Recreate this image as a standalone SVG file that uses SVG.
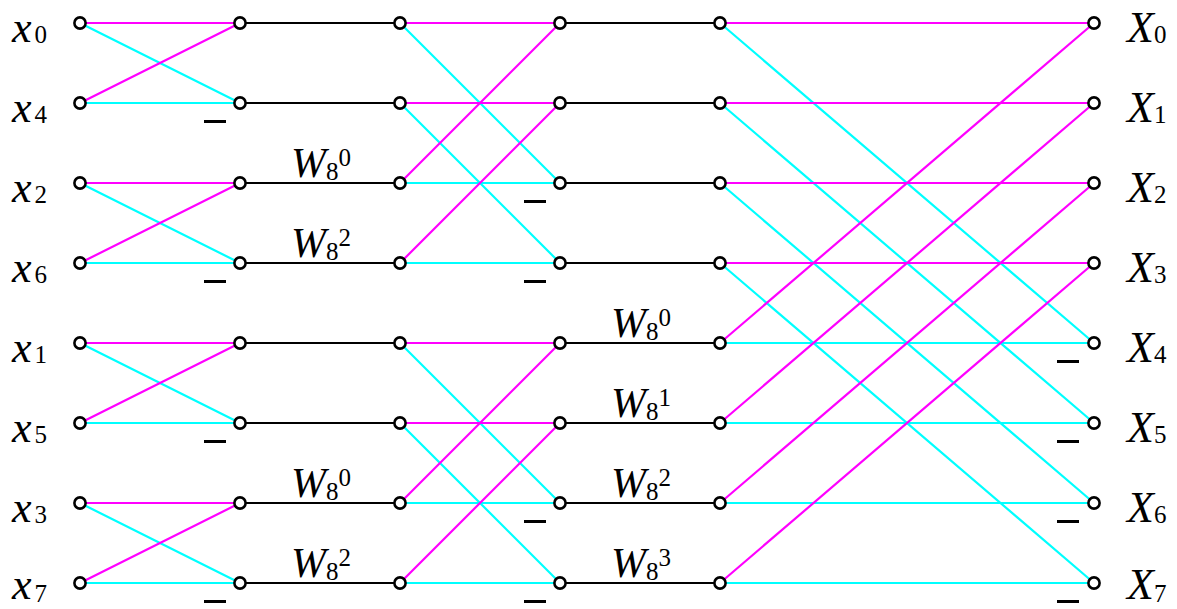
<svg xmlns="http://www.w3.org/2000/svg" width="1177" height="609" viewBox="0 0 1177 609">
  <defs>
    <style>
      .m { stroke: #ff00ff; stroke-width: 2.2; fill: none; }
      .c { stroke: #00ffff; stroke-width: 2.2; fill: none; }
      .k { stroke: #000000; stroke-width: 2.2; fill: none; }
      .node { fill: #ffffff; stroke: #000000; stroke-width: 2.6; }
      .lbl { font-family: "Liberation Serif", "Times New Roman", serif; fill: #000000; }
      .it { font-style: italic; font-size: 44px; }
      .wt { font-style: italic; font-size: 42px; }
      .sub { font-size: 25px; font-style: normal; }
      .neg { fill: #000000; }
    </style>
    <circle id="n" r="5.6" class="node"/>
    <!-- subtraction bar, placed below-left of the node it belongs to -->
    <rect id="neg" x="-36" y="17" width="22" height="3" class="neg"/>
  </defs>
  <rect width="1177" height="609" fill="#ffffff"/>

  <!-- butterfly connectors -->
  <g id="connectors">
    <!-- stage 1: 2-point butterflies (cyan) -->
    <g class="c">
      <path d="M80 23L240 103M80 103L240 103"/>
      <path d="M80 183L240 263M80 263L240 263"/>
      <path d="M80 343L240 423M80 423L240 423"/>
      <path d="M80 503L240 583M80 583L240 583"/>
    </g>
    <!-- stage 1 (magenta) -->
    <g class="m">
      <path d="M80 23L240 23M80 103L240 23"/>
      <path d="M80 183L240 183M80 263L240 183"/>
      <path d="M80 343L240 343M80 423L240 343"/>
      <path d="M80 503L240 503M80 583L240 503"/>
    </g>
    <!-- twiddle branches -->
    <g class="k">
      <path d="M240 23H400M240 103H400M240 183H400M240 263H400M240 343H400M240 423H400M240 503H400M240 583H400"/>
      <path d="M560 23H720M560 103H720M560 183H720M560 263H720M560 343H720M560 423H720M560 503H720M560 583H720"/>
    </g>
    <!-- stage 2: 4-point butterflies -->
    <g class="c">
      <path d="M400 23L560 183M400 103L560 263M400 183L560 183M400 263L560 263"/>
      <path d="M400 343L560 503M400 423L560 583M400 503L560 503M400 583L560 583"/>
    </g>
    <g class="m">
      <path d="M400 23L560 23M400 103L560 103M400 183L560 23M400 263L560 103"/>
      <path d="M400 343L560 343M400 423L560 423M400 503L560 343M400 583L560 423"/>
    </g>
    <!-- stage 3: 8-point butterfly -->
    <g class="c">
      <path d="M720 23L1094 343M720 103L1094 423M720 183L1094 503M720 263L1094 583"/>
      <path d="M720 343H1094M720 423H1094M720 503H1094M720 583H1094"/>
    </g>
    <g class="m">
      <path d="M720 23H1094M720 103H1094M720 183H1094M720 263H1094"/>
      <path d="M720 343L1094 23M720 423L1094 103M720 503L1094 183M720 583L1094 263"/>
    </g>
  </g>

  <!-- nodes, one group per column -->
  <g id="col0">
    <use href="#n" x="80" y="23"/><use href="#n" x="80" y="103"/><use href="#n" x="80" y="183"/><use href="#n" x="80" y="263"/>
    <use href="#n" x="80" y="343"/><use href="#n" x="80" y="423"/><use href="#n" x="80" y="503"/><use href="#n" x="80" y="583"/>
  </g>
  <g id="col1">
    <use href="#n" x="240" y="23"/><use href="#n" x="240" y="103"/><use href="#n" x="240" y="183"/><use href="#n" x="240" y="263"/>
    <use href="#n" x="240" y="343"/><use href="#n" x="240" y="423"/><use href="#n" x="240" y="503"/><use href="#n" x="240" y="583"/>
  </g>
  <g id="col2">
    <use href="#n" x="400" y="23"/><use href="#n" x="400" y="103"/><use href="#n" x="400" y="183"/><use href="#n" x="400" y="263"/>
    <use href="#n" x="400" y="343"/><use href="#n" x="400" y="423"/><use href="#n" x="400" y="503"/><use href="#n" x="400" y="583"/>
  </g>
  <g id="col3">
    <use href="#n" x="560" y="23"/><use href="#n" x="560" y="103"/><use href="#n" x="560" y="183"/><use href="#n" x="560" y="263"/>
    <use href="#n" x="560" y="343"/><use href="#n" x="560" y="423"/><use href="#n" x="560" y="503"/><use href="#n" x="560" y="583"/>
  </g>
  <g id="col4">
    <use href="#n" x="720" y="23"/><use href="#n" x="720" y="103"/><use href="#n" x="720" y="183"/><use href="#n" x="720" y="263"/>
    <use href="#n" x="720" y="343"/><use href="#n" x="720" y="423"/><use href="#n" x="720" y="503"/><use href="#n" x="720" y="583"/>
  </g>
  <g id="col5">
    <use href="#n" x="1094" y="23"/><use href="#n" x="1094" y="103"/><use href="#n" x="1094" y="183"/><use href="#n" x="1094" y="263"/>
    <use href="#n" x="1094" y="343"/><use href="#n" x="1094" y="423"/><use href="#n" x="1094" y="503"/><use href="#n" x="1094" y="583"/>
  </g>

  <!-- subtraction marks -->
  <g id="minus">
    <use href="#neg" x="240" y="103"/><use href="#neg" x="240" y="263"/><use href="#neg" x="240" y="423"/><use href="#neg" x="240" y="583"/>
    <use href="#neg" x="560" y="183"/><use href="#neg" x="560" y="263"/><use href="#neg" x="560" y="503"/><use href="#neg" x="560" y="583"/>
    <use href="#neg" x="1093" y="343"/><use href="#neg" x="1093" y="423"/><use href="#neg" x="1093" y="503"/><use href="#neg" x="1093" y="583"/>
  </g>

  <!-- twiddle factors -->
  <g id="twiddles" class="lbl">
    <text x="291" y="177"><tspan class="wt">W</tspan><tspan class="sub" dy="3">8</tspan><tspan class="sub" dy="-14">0</tspan></text>
    <text x="291" y="257"><tspan class="wt">W</tspan><tspan class="sub" dy="3">8</tspan><tspan class="sub" dy="-14">2</tspan></text>
    <text x="291" y="497"><tspan class="wt">W</tspan><tspan class="sub" dy="3">8</tspan><tspan class="sub" dy="-14">0</tspan></text>
    <text x="291" y="577"><tspan class="wt">W</tspan><tspan class="sub" dy="3">8</tspan><tspan class="sub" dy="-14">2</tspan></text>
    <text x="611" y="337"><tspan class="wt">W</tspan><tspan class="sub" dy="3">8</tspan><tspan class="sub" dy="-14">0</tspan></text>
    <text x="611" y="417"><tspan class="wt">W</tspan><tspan class="sub" dy="3">8</tspan><tspan class="sub" dy="-14">1</tspan></text>
    <text x="611" y="497"><tspan class="wt">W</tspan><tspan class="sub" dy="3">8</tspan><tspan class="sub" dy="-14">2</tspan></text>
    <text x="611" y="577"><tspan class="wt">W</tspan><tspan class="sub" dy="3">8</tspan><tspan class="sub" dy="-14">3</tspan></text>
  </g>

  <!-- inputs (bit-reversed order) -->
  <g id="inputs" class="lbl">
    <text x="12" y="42"><tspan class="it">x</tspan><tspan class="sub" dx="3" dy="1">0</tspan></text>
    <text x="12" y="122"><tspan class="it">x</tspan><tspan class="sub" dx="3" dy="1">4</tspan></text>
    <text x="12" y="202"><tspan class="it">x</tspan><tspan class="sub" dx="3" dy="1">2</tspan></text>
    <text x="12" y="282"><tspan class="it">x</tspan><tspan class="sub" dx="3" dy="1">6</tspan></text>
    <text x="12" y="362"><tspan class="it">x</tspan><tspan class="sub" dx="3" dy="1">1</tspan></text>
    <text x="12" y="442"><tspan class="it">x</tspan><tspan class="sub" dx="3" dy="1">5</tspan></text>
    <text x="12" y="522"><tspan class="it">x</tspan><tspan class="sub" dx="3" dy="1">3</tspan></text>
    <text x="12" y="599"><tspan class="it">x</tspan><tspan class="sub" dx="3" dy="3">7</tspan></text>
  </g>

  <!-- outputs -->
  <g id="outputs" class="lbl">
    <text x="1127" y="42"><tspan class="it">X</tspan><tspan class="sub" dy="1">0</tspan></text>
    <text x="1127" y="122"><tspan class="it">X</tspan><tspan class="sub" dy="1">1</tspan></text>
    <text x="1127" y="202"><tspan class="it">X</tspan><tspan class="sub" dy="1">2</tspan></text>
    <text x="1127" y="282"><tspan class="it">X</tspan><tspan class="sub" dy="1">3</tspan></text>
    <text x="1127" y="362"><tspan class="it">X</tspan><tspan class="sub" dy="1">4</tspan></text>
    <text x="1127" y="442"><tspan class="it">X</tspan><tspan class="sub" dy="1">5</tspan></text>
    <text x="1127" y="522"><tspan class="it">X</tspan><tspan class="sub" dy="1">6</tspan></text>
    <text x="1127" y="599"><tspan class="it">X</tspan><tspan class="sub" dy="3">7</tspan></text>
  </g>
</svg>
